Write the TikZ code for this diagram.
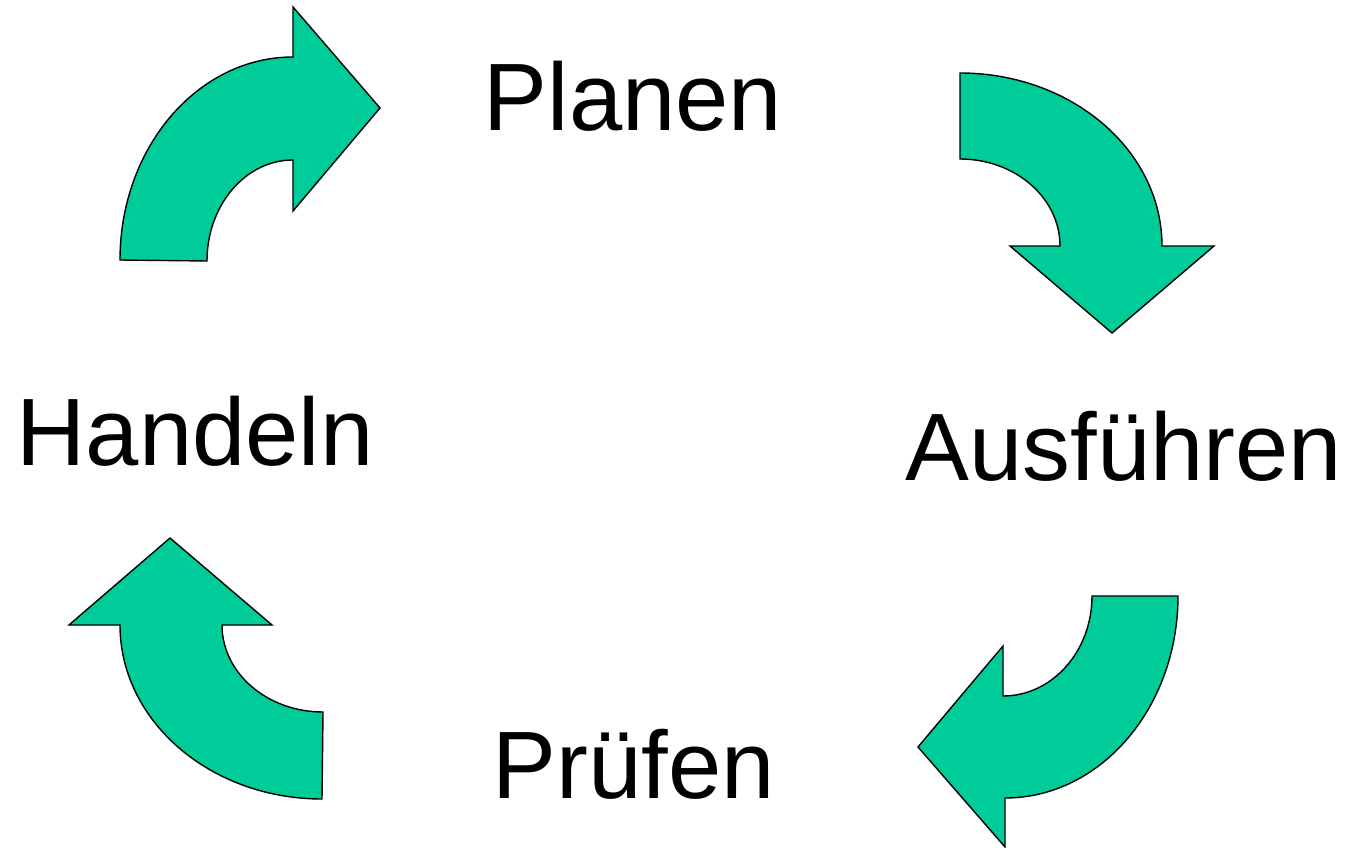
\documentclass[tikz,border=0pt]{standalone}
\usepackage{fontspec}
\setmainfont{Liberation Sans}
\usetikzlibrary{positioning}
\definecolor{pdcagreen}{RGB}{0,204,153}
\tikzset{pfeil/.style={fill=pdcagreen,draw=black,line width=0.8pt,line join=miter},
         stufe/.style={inner sep=0pt,anchor=base,font=\fontsize{54.5}{60}\selectfont}}

\begin{document}
\begin{tikzpicture}[x=0.02cm,y=-0.02cm]

\useasboundingbox (0,0) rectangle (1346,848);

\node[stufe] (planen)    at ( 633,131) {Planen};
\node[stufe] (ausfuehren) at (1124,480) {Ausführen};
\node[stufe] (pruefen)   at ( 634,798) {Prüfen};
\node[stufe] (handeln)   at ( 195,465) {Handeln};

% oben links
\draw[pfeil] (120,260) arc[start angle=180,end angle=270,x radius=173,y radius=203]
   -- (293,7) -- (380,108) -- (293,211) -- (293,160)
   arc[start angle=270,end angle=180,x radius=86,y radius=101] -- cycle;

% oben rechts
\draw[pfeil] (960,73) arc[start angle=-90,end angle=0,x radius=202,y radius=173]
   -- (1214,246) -- (1112,333) -- (1010,246) -- (1060,246)
   arc[start angle=0,end angle=-90,x radius=100,y radius=87] -- cycle;

% unten rechts
\draw[pfeil] (1092,596) -- (1178,596)
   arc[start angle=0,end angle=90,x radius=173,y radius=202]
   -- (1005,847) -- (918,747) -- (1003,646) -- (1003,696)
   arc[start angle=90,end angle=0,x radius=89,y radius=100] -- cycle;

% unten links
\draw[pfeil] (120,625) -- (69,625) -- (170,538) -- (272,625) -- (222,625)
   arc[start angle=180,end angle=90,x radius=101,y radius=87]
   -- (322,799) arc[start angle=90,end angle=180,x radius=202,y radius=174] -- cycle;

\end{tikzpicture}
\end{document}
